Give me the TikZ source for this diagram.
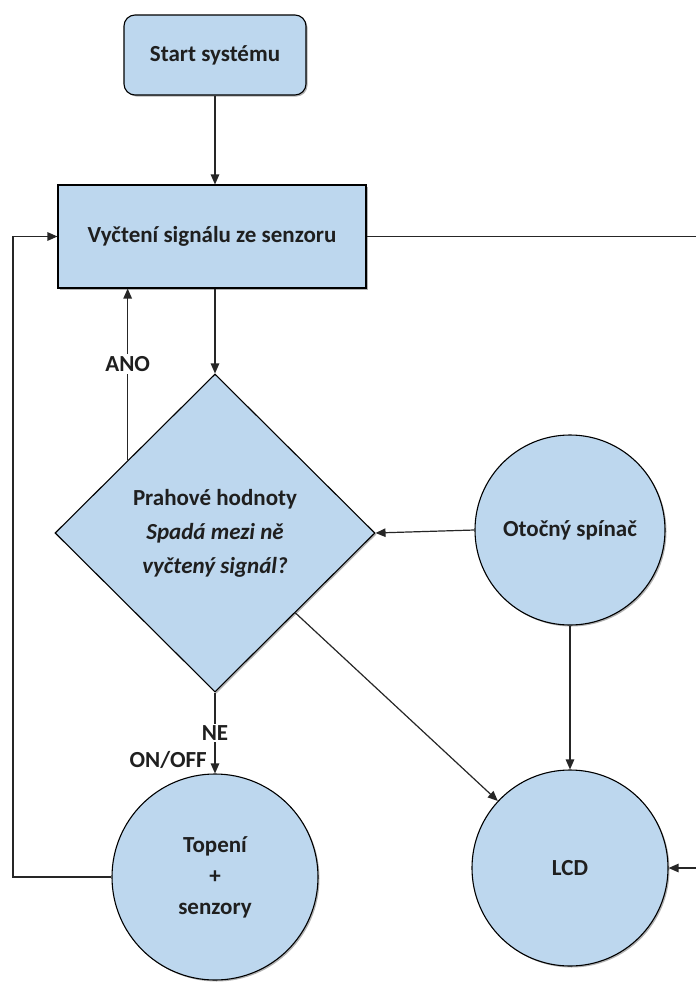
\documentclass[tikz,border=0pt]{standalone}
\usepackage{fontspec}
\setmainfont{Carlito}
\usetikzlibrary{shapes.geometric,arrows.meta,calc,shadows}
\definecolor{boxblue}{HTML}{BDD7EE}
\begin{document}
\begin{tikzpicture}[x=1pt,y=-1pt,
  font=\fontsize{23}{29}\selectfont\bfseries,
  base/.style={draw=black, line width=1.1pt, fill=boxblue, text=black!88,
     drop shadow={shadow xshift=1.5pt, shadow yshift=-1.5pt, opacity=0.3, fill=black}},
  roundbox/.style={base, rounded corners=11pt, minimum width=182pt, minimum height=80pt},
  sqbox/.style={base, minimum width=308pt, minimum height=103pt},
  decision/.style={base, diamond, minimum width=320pt, minimum height=318pt, inner sep=0pt, align=center},
  roundnode/.style={base, circle, inner sep=0pt, align=center},
  conn/.style={draw=black!85, line width=1.2pt, -{Triangle[length=10pt,width=8.5pt]}},
  plainline/.style={draw=black!85, line width=1.2pt},
  lbl/.style={fill=white, inner sep=2pt, text=black!88}
]
\useasboundingbox (0,0) rectangle (696,983);

\node[roundbox] (start) at (215,55) {Start systému};
\node[sqbox] (read) at (212,236.5) {Vyčtení signálu ze senzoru};
\node[decision] (dec) at (215,533) {Prahové hodnoty\\[5pt] \textit{Spadá mezi ně}\\[5pt] \textit{vyčtený signál?}};
\node[roundnode, minimum size=190pt] (knob) at (570,530) {Otočný spínač};
\node[roundnode, minimum size=196pt] (lcd) at (570,868) {LCD};
\node[roundnode, minimum size=206pt] (heat) at (215,877) {Topení\\[2pt] +\\[2pt] senzory};

\coordinate (rightX) at (698,0);
\coordinate (leftX) at (13,0);
\coordinate (anoS) at ($(dec.north)!0.544!(dec.west)$);
\coordinate (lcdS) at ($(dec.east)!0.5!(dec.south)$);

\draw[conn] (start.south) -- (start.south |- read.north);
\draw[conn] (read.south -| dec.north) -- (dec.north);
\draw[conn] (anoS) -- node[lbl, pos=0.56] {ANO} (anoS |- read.south);
\draw[conn] (dec.south) -- node[lbl, pos=0.5] {NE} (heat.north);
\node[anchor=south east, inner sep=0pt, text=black!88] (onoff) at ($(heat.north)+(-8,-5)$) {ON/OFF};
\draw[conn] (knob.west) -- (dec.east);
\draw[conn] (knob.south) -- (lcd.north);
\draw[conn] (lcdS) -- (lcd);
% feedback to LCD leaves the picture on the right and comes back in
\draw[plainline] (read.east) -- (read.east -| rightX);
\draw[conn] (rightX |- lcd.east) -- (lcd.east);
\draw[conn] (heat.west) -- (heat.west -| leftX) -- (leftX |- read.west) -- (read.west);
\end{tikzpicture}
\end{document}
